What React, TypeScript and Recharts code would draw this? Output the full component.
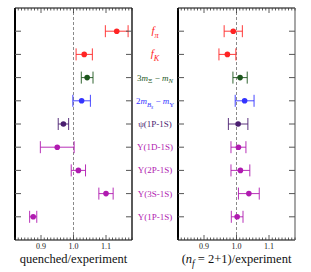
import React from "react";
import { ScatterChart, Scatter, XAxis, YAxis, ErrorBar, ReferenceLine } from "recharts";

type Seg = { t: string; i?: boolean; s?: number };

// row labels, top to bottom
const rowLabels: Seg[][] = [
  [{ t: "f", i: true }, { t: "π", i: true, s: 1 }],
  [{ t: "f", i: true }, { t: "K", i: true, s: 1 }],
  [{ t: "3" }, { t: "m", i: true }, { t: "Ξ", s: 1 }, { t: " − " }, { t: "m", i: true }, { t: "N", i: true, s: 1 }],
  [{ t: "2" }, { t: "m", i: true }, { t: "B", i: true, s: 1 }, { t: "s", i: true, s: 2 }, { t: " − " }, { t: "m", i: true }, { t: "Υ", s: 1 }],
  [{ t: "ψ(1P-1S)" }],
  [{ t: "Υ(1D-1S)" }],
  [{ t: "Υ(2P-1S)" }],
  [{ t: "Υ(3S-1S)" }],
  [{ t: "Υ(1P-1S)" }],
];
const rowColors = ["#ff2424", "#ff2424", "#1c561c", "#3434ff", "#4a1e70", "#b01ab0", "#b01ab0", "#b01ab0", "#b01ab0"];
const rows = [1, 2, 3, 4, 5, 6, 7, 8, 9];

// ratio to experiment, with errors
const quenched = [1.133, 1.033, 1.042, 1.025, 0.969, 0.95, 1.015, 1.1, 0.876];
const quenchedErr = [0.035, 0.025, 0.018, 0.027, 0.016, 0.052, 0.022, 0.022, 0.011];
const full = [0.99, 0.972, 1.011, 1.025, 1.005, 1.006, 1.012, 1.038, 1.002];
const fullErr = [0.028, 0.026, 0.022, 0.029, 0.03, 0.023, 0.029, 0.032, 0.018];

const majorTicks = [0.9, 1, 1.1];
const majorLabels = ["0.9", "1.0", "1.1"];
const minorTicks = Array.from({ length: 37 }, (_, i) => Math.round((0.82 + i * 0.01) * 100) / 100);

const SERIF = "'Liberation Serif', 'DejaVu Serif', serif";
const PLOT_W = 117;
const PLOT_H = 232;

const RichText = ({ segs, size }: { segs: Seg[]; size: number }) => {
  let level = 0;
  return (
    <>
      {segs.map((g, j) => {
        const lv = g.s || 0;
        const dy = (lv - level) * size * 0.3;
        level = lv;
        return (
          <tspan key={j} dy={dy} fontStyle={g.i ? "italic" : "normal"} fontSize={lv ? size * (lv === 1 ? 0.75 : 0.62) : size}>
            {g.t}
          </tspan>
        );
      })}
    </>
  );
};

const XTick = (props: any) => {
  const { x, y, payload } = props;
  const k = majorTicks.indexOf(payload.value);
  const len = k >= 0 ? 5 : 2.5;
  const top = y - PLOT_H;
  return (
    <g>
      <line x1={x} x2={x} y1={y} y2={y - len} stroke="#333" strokeWidth={0.8} />
      <line x1={x} x2={x} y1={top} y2={top + len} stroke="#333" strokeWidth={0.8} />
      {k >= 0 && (
        <text x={x} y={y + 9} textAnchor="middle" fontSize={8} fontFamily={SERIF} fill="#222">
          {majorLabels[k]}
        </text>
      )}
    </g>
  );
};

const makeYTick = (showLabels: boolean) => (props: any) => {
  const { x, y, index } = props;
  const r = x + PLOT_W;
  const size = rowLabels[index].length === 2 ? 11 : 9;
  return (
    <g>
      <line x1={x} x2={x + 6} y1={y} y2={y} stroke="#555" strokeWidth={1} />
      <line x1={r} x2={r - 6} y1={y} y2={y} stroke="#555" strokeWidth={1} />
      {showLabels && (
        <text x={r + 23} y={y + 3} textAnchor="middle" fontSize={size} fontFamily={SERIF} fill={rowColors[index]}>
          <RichText segs={rowLabels[index]} size={size} />
        </text>
      )}
    </g>
  );
};

type PanelProps = {
  values: number[];
  errors: number[];
  title: Seg[];
  left: number;
  right: number;
  showLabels: boolean;
  rightColor: string;
};

const Panel = ({ values, errors, title, left, right, showLabels, rightColor }: PanelProps) => (
  <div style={{ position: "absolute", left: 0, top: 0 }}>
    <ScatterChart width={311} height={272} margin={{ top: 7, left: left - 1, right: right - 1, bottom: 0 }}>
      <XAxis
        type="number"
        dataKey="x"
        domain={[0.82, 1.18]}
        allowDataOverflow
        ticks={minorTicks}
        interval={0}
        height={32}
        tickLine={false}
        tickSize={0}
        tickMargin={0}
        tick={XTick}
        axisLine={{ stroke: "#000", strokeWidth: 1.2 }}
        label={{
          content: (p: any) => {
            const vb = p.viewBox;
            return (
              <text x={vb.x + vb.width / 2} y={vb.y + 23} textAnchor="middle" fontSize={12.5} fontFamily={SERIF} fill="#111">
                <RichText segs={title} size={12.5} />
              </text>
            );
          },
        }}
      />
      <XAxis
        xAxisId="top"
        orientation="top"
        type="number"
        domain={[0.82, 1.18]}
        height={1}
        tick={false}
        tickLine={false}
        axisLine={{ stroke: "#000", strokeWidth: 1.2 }}
      />
      <YAxis
        type="number"
        dataKey="y"
        domain={[0, 10]}
        reversed
        ticks={rows}
        interval={0}
        width={1}
        tickLine={false}
        tickSize={0}
        tickMargin={0}
        tick={makeYTick(showLabels)}
        axisLine={{ stroke: "#000", strokeWidth: 2 }}
      />
      <YAxis
        yAxisId="right"
        orientation="right"
        type="number"
        domain={[0, 10]}
        width={1}
        tick={false}
        tickLine={false}
        axisLine={{ stroke: rightColor, strokeWidth: 1.3 }}
      />
      <ReferenceLine x={1} stroke="#8a8a8a" strokeDasharray="3 2" strokeWidth={1} />
      {rows.map((r, i) => (
        <Scatter
          key={r}
          data={[{ x: values[i], y: r, err: errors[i] }]}
          fill={rowColors[i]}
          isAnimationActive={false}
          shape={(p: any) => <circle cx={p.cx} cy={p.cy} r={2.8} fill={rowColors[i]} />}
        >
          <ErrorBar dataKey="err" direction="x" width={6} stroke={rowColors[i]} strokeWidth={0.9} isAnimationActive={false} />
        </Scatter>
      ))}
    </ScatterChart>
  </div>
);

export default function App() {
  return (
    <div style={{ position: "absolute", left: 0, top: 0, width: 311, height: 272, background: "#fff" }}>
      <Panel
        values={quenched}
        errors={quenchedErr}
        title={[{ t: "quenched/experiment" }]}
        left={15}
        right={179}
        showLabels
        rightColor="#000"
      />
      <Panel
        values={full}
        errors={fullErr}
        title={[{ t: "(" }, { t: "n", i: true }, { t: "f", i: true, s: 1 }, { t: " = 2+1)/experiment" }]}
        left={178}
        right={16}
        showLabels={false}
        rightColor="#777"
      />
    </div>
  );
}
